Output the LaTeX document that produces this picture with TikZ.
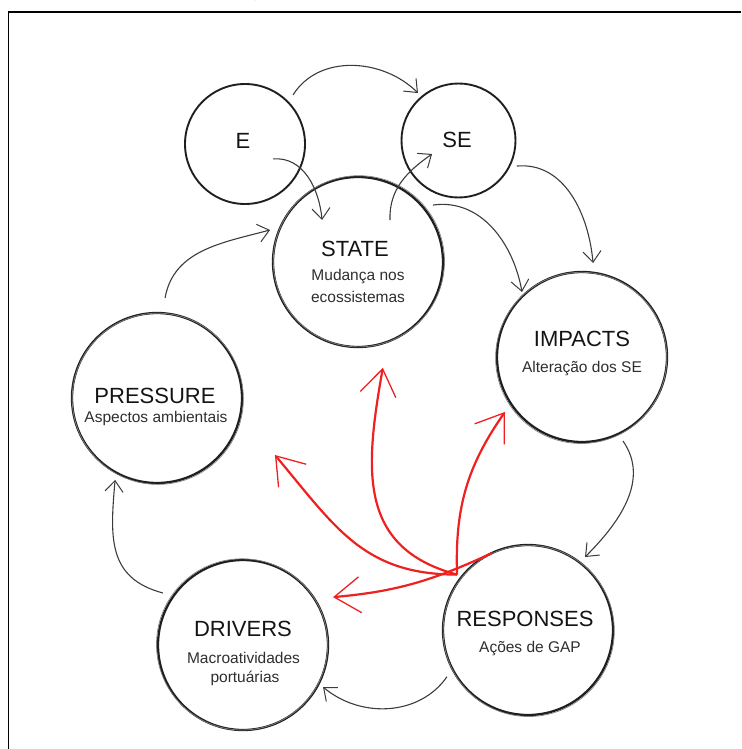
\documentclass[tikz,border=0pt]{standalone}
\usepackage{fontspec}
\setmainfont{Liberation Sans}
\usetikzlibrary{arrows.meta,calc}
\definecolor{redarrow}{RGB}{238,32,32}
\definecolor{inkline}{RGB}{60,60,60}
\begin{document}
\begin{tikzpicture}[x=1pt,y=-1pt,
  circ/.style={circle, draw=black!88, line width=2.3pt, inner sep=0pt, minimum size=#1},
  ttl/.style={anchor=base, inner sep=0pt, font=\fontsize{22}{24}\selectfont, text=black!92},
  sub/.style={anchor=base, inner sep=0pt, font=\fontsize{15.5}{17}\selectfont, text=black!82},
  conn/.style={draw=inkline, line width=1.1pt, -{Straight Barb[length=11pt,width=18pt,line width=1pt]}},
  redarr/.style={draw=redarrow, line width=2.2pt, -{Straight Barb[length=26pt,width=36pt,line width=1.3pt]}},
  sketch/.style={draw=black!50, line width=0.7pt}
]
\useasboundingbox (0,0) rectangle (741,749);

% frame and title fragment
\draw[line width=1.6pt] (8.5,749) -- (8.5,12) -- (741,12);
\begin{scope}
  \clip (0,0) rectangle (741,10.5);
  \node[anchor=base, inner sep=0pt, font=\bfseries\fontsize{24}{26}\selectfont] (titlefrag) at (255.5,-4) {g};
\end{scope}

% circles
\node[circ=120pt, line width=1.9pt] (E) at (245,144) {};
\node[circ=114pt, line width=1.9pt] (SE) at (458.5,140.5) {};
\node[circ=170pt] (STATE) at (358,262) {};
\node[circ=170pt] (IMPACTS) at (582,357) {};
\node[circ=170pt] (PRESSURE) at (157,398) {};
\node[circ=170pt] (DRIVERS) at (243,645) {};
\node[circ=170pt] (RESPONSES) at (528,630) {};

% sketchy second strokes
\draw[sketch] ($(STATE.center)+(0.9,-0.7)$) circle[radius=85.6pt];
\draw[sketch] ($(IMPACTS.center)+(-0.8,0.9)$) circle[radius=85.6pt];
\draw[sketch] ($(PRESSURE.center)+(0.8,0.8)$) circle[radius=85.6pt];
\draw[sketch] ($(DRIVERS.center)+(-0.9,-0.6)$) circle[radius=85.6pt];
\draw[sketch] ($(RESPONSES.center)+(0.7,0.9)$) circle[radius=85.6pt];

% texts
\node[ttl] (tE) at (243,148) {E};
\node[ttl] (tSE) at (457,147) {SE};
\node[ttl] (tSTATE) at (355,256) {STATE};
\node[sub] (sSTATE1) at (358,280.5) {Mudança nos};
\node[sub] (sSTATE2) at (358,302.5) {ecossistemas};
\node[ttl] (tIMPACTS) at (582,346) {IMPACTS};
\node[sub] (sIMPACTS) at (582,372.5) {Alteração dos SE};
\node[ttl] (tPRESSURE) at (155,403) {PRESSURE};
\node[sub] (sPRESSURE) at (156,422.5) {Aspectos ambientais};
\node[ttl] (tDRIVERS) at (243,636) {DRIVERS};
\node[sub] (sDRIVERS1) at (243.5,663.5) {Macroatividades};
\node[sub] (sDRIVERS2) at (245,682.5) {portuárias};
\node[ttl] (tRESPONSES) at (525,626) {RESPONSES};
\node[sub] (sRESPONSES) at (530,652.5) {Ações de GAP};

% black connectors
\draw[conn] ($(E.center)+(45.6:68.6pt)$) to[out=58,in=135] ($(SE.center)+(130.5:62.4pt)$);
\draw[conn] ($(E.center)+(-28:31.8pt)$) to[out=5,in=95] ($(STATE.center)+(130.6:55.3pt)$);
\draw[conn] ($(STATE.center)+(52.7:52.8pt)$) to[out=92,in=215] ($(SE.center)+(207:29.7pt)$);
\draw[conn] ($(PRESSURE.center)+(85.4:100.3pt)$) to[out=80,in=195] ($(STATE.center)+(160:93.6pt)$);
\draw[conn] ($(STATE.center)+(37.2:94.2pt)$) to[out=8,in=100] ($(IMPACTS.center)+(132.7:88.5pt)$);
\draw[conn] ($(SE.center)+(-23.6:63.8pt)$) to[out=5,in=95] ($(IMPACTS.center)+(83.3:94.6pt)$);
\draw[conn] ($(IMPACTS.center)+(-64:93.5pt)$) to[out=-55,in=45] ($(RESPONSES.center)+(52:92.6pt)$);
\draw[conn] ($(RESPONSES.center)+(210:93.6pt)$) to[out=235,in=-40] ($(DRIVERS.center)+(-27.7:90.4pt)$);
\draw[conn] ($(DRIVERS.center)+(147:95.4pt)$) to[out=165,in=-95,looseness=1.2] ($(PRESSURE.center)+(242.9:92pt)$);

% red arrows from RESPONSES
\draw[redarr] ($(RESPONSES.center)+(142:90pt)$) to[out=165,in=-100,looseness=1.2] ($(STATE.center)+(-76.8:108.7pt)$);
\draw[redarr] ($(RESPONSES.center)+(142:90pt)$) to[out=180,in=-50,looseness=1.1] ($(PRESSURE.center)+(-25.8:131pt)$);
\draw[redarr] ($(RESPONSES.center)+(142:90pt)$) to[out=92,in=235] ($(IMPACTS.center)+(215.5:94.6pt)$);
\draw[redarr] ($(RESPONSES.center)+(115:85pt)$) to[out=205,in=5] ($(DRIVERS.center)+(28:102pt)$);
\end{tikzpicture}
\end{document}
